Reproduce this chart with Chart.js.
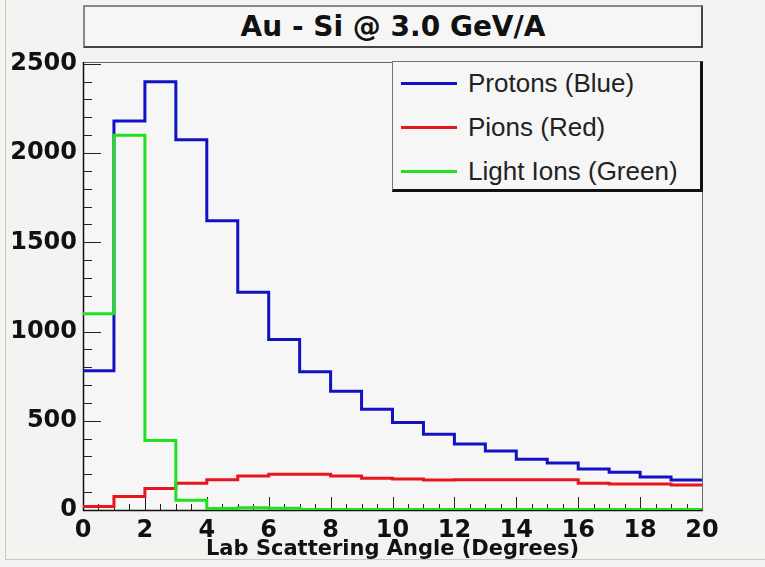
<!DOCTYPE html>
<html>
<head>
<meta charset="utf-8">
<script src="https://cdn.jsdelivr.net/npm/chart.js@4.4.1/dist/chart.umd.min.js"></script>
<style>
  html, body { margin: 0; padding: 0; background: #f3f3f1; }
  #wrap { position: relative; width: 765px; height: 567px; overflow: hidden; }
  #frame { position: absolute; left: 5px; top: 0; width: 760px; height: 560px;
           border-left: 1px solid #c8c8c0; border-bottom: 1px solid #c8c8c0; box-sizing: border-box; }
  canvas { position: absolute; left: 0; top: 0; }
  #title { position: absolute; left: 83px; top: 5px; width: 620px; height: 43px; box-sizing: border-box;
           background: #f6f6f6; border: 2px solid #444; border-top-color: #888; border-left-color: #888;
           font: bold 28px "DejaVu Sans", sans-serif; color: #111; text-align: center; line-height: 39px; }
  #legend { position: absolute; left: 392px; top: 61px; width: 311px; height: 131px; box-sizing: border-box;
            background: #f6f6f6; border: 1px solid #777; border-right: 3px solid #111; border-bottom: 3px solid #111; }
  .item { position: absolute; left: 8px; height: 30px; font: 26px "Liberation Sans", Arial, sans-serif; color: #222; }
  .item span.swatch { position: absolute; left: 0; top: 14px; width: 56px; height: 3px; }
  .item span.label { position: absolute; left: 67px; top: 0; white-space: nowrap; line-height: 30px; }
</style>
</head>
<body>
<div id="wrap">
  <div id="frame"></div>
  <canvas id="chart" width="765" height="567"></canvas>
  <div id="title">Au - Si @ 3.0 GeV/A</div>
  <div id="legend"></div>
</div>
<script>
// Histogram bins: lower edge of each 1-degree bin
const binEdges = [0, 1, 2, 3, 4, 5, 6, 7, 8, 9, 10, 11, 12, 13, 14, 15, 16, 17, 18, 19];
const binEnd = 20;

// Counts per bin
const protons = [780, 2180, 2400, 2075, 1620, 1220, 955, 775, 665, 565, 490, 425, 370, 330, 285, 263, 230, 212, 185, 168];
const pions = [20, 75, 120, 150, 170, 190, 200, 200, 190, 178, 173, 168, 170, 170, 170, 170, 150, 145, 145, 140];
const lightIons = [1100, 2100, 390, 55, 8, 12, 10, 3, 3, 3, 3, 3, 3, 3, 3, 3, 3, 3, 3, 3];

const xTicks = [0, 2, 4, 6, 8, 10, 12, 14, 16, 18, 20];
const yTicks = [0, 500, 1000, 1500, 2000, 2500];

const seriesNames = ["Protons (Blue)", "Pions (Red)", "Light Ions (Green)"];
const seriesColors = ["#1212c4", "#e8161c", "#20e020"];

// turn bin values into step points (extra point closes the last bin)
function toSteps(values) {
  const pts = binEdges.map((x, i) => ({ x: x, y: values[i] }));
  pts.push({ x: binEnd, y: values[values.length - 1] });
  return pts;
}

// plot background, frame and inward ticks like ROOT
const frameTicks = {
  id: "frameTicks",
  beforeDatasetsDraw(chart) {
    const { ctx, chartArea: a, scales } = chart;
    ctx.save();
    ctx.fillStyle = "#f6f6f6";
    ctx.fillRect(a.left, a.top, a.right - a.left, a.bottom - a.top);

    ctx.strokeStyle = "#222";
    ctx.lineWidth = 1;
    ctx.beginPath();
    // x ticks
    for (let v = 0; v <= 20.001; v += 0.5) {
      const px = Math.round(scales.x.getPixelForValue(v)) + 0.5;
      const len = v % 2 === 0 ? 13 : 6;
      ctx.moveTo(px, a.bottom);
      ctx.lineTo(px, a.bottom - len);
    }
    // y ticks
    for (let v = 0; v <= 2500; v += 100) {
      const py = Math.round(scales.y.getPixelForValue(v)) + 0.5;
      const len = v % 500 === 0 ? 18 : 9;
      ctx.moveTo(a.left, py);
      ctx.lineTo(a.left + len, py);
    }
    ctx.stroke();

    ctx.strokeStyle = "#666";
    ctx.strokeRect(a.left + 0.5, a.top + 0.5, a.right - a.left, a.bottom - a.top);
    ctx.strokeStyle = "#111";
    ctx.lineWidth = 1.5;
    ctx.beginPath();
    ctx.moveTo(a.left + 0.5, a.top);
    ctx.lineTo(a.left + 0.5, a.bottom + 0.5);
    ctx.lineTo(a.right + 0.5, a.bottom + 0.5);
    ctx.stroke();
    ctx.restore();
  }
};

const chart = new Chart(document.getElementById("chart"), {
  type: "line",
  data: {
    datasets: [
      { label: seriesNames[0], data: toSteps(protons), borderColor: seriesColors[0], order: 3 },
      { label: seriesNames[1], data: toSteps(pions), borderColor: seriesColors[1], order: 2 },
      { label: seriesNames[2], data: toSteps(lightIons), borderColor: seriesColors[2], order: 1 },
    ],
  },
  options: {
    responsive: false,
    animation: false,
    devicePixelRatio: 1,
    datasets: {
      line: { stepped: "before", borderWidth: 3, pointRadius: 0, fill: false, tension: 0 },
    },
    layout: { padding: { left: 0, top: 62, right: 63, bottom: 2 } },
    plugins: { legend: { display: false }, tooltip: { enabled: false }, title: { display: false } },
    scales: {
      x: {
        type: "linear",
        min: 0,
        max: 20,
        afterFit: (s) => { s.height = 55; },
        afterBuildTicks: (s) => { s.ticks = xTicks.map((v) => ({ value: v })); },
        grid: { display: false },
        border: { display: false },
        ticks: {
          padding: -2,
          color: "#111",
          font: { family: "DejaVu Sans", weight: "bold", size: 24 },
          callback: (v) => String(v),
        },
        title: {
          display: true,
          text: "Lab Scattering Angle (Degrees)",
          color: "#111",
          padding: { top: 0, bottom: 3 },
          font: { family: "DejaVu Sans", weight: "bold", size: 21 },
        },
      },
      y: {
        min: 0,
        max: 2510,
        afterFit: (s) => { s.width = 83; },
        afterBuildTicks: (s) => { s.ticks = yTicks.map((v) => ({ value: v })); },
        grid: { display: false },
        border: { display: false },
        ticks: {
          padding: -2,
          color: "#111",
          font: { family: "DejaVu Sans", weight: "bold", size: 24 },
          callback: (v) => String(v),
        },
      },
    },
  },
  plugins: [frameTicks],
});

// legend box built from the chart datasets
const legendBox = document.getElementById("legend");
chart.data.datasets.forEach((ds, i) => {
  const row = document.createElement("div");
  row.className = "item";
  row.style.top = (6 + i * 44) + "px";
  row.innerHTML = '<span class="swatch" style="background:' + ds.borderColor + '"></span>' +
    '<span class="label">' + ds.label + "</span>";
  legendBox.appendChild(row);
});
</script>
</body>
</html>
